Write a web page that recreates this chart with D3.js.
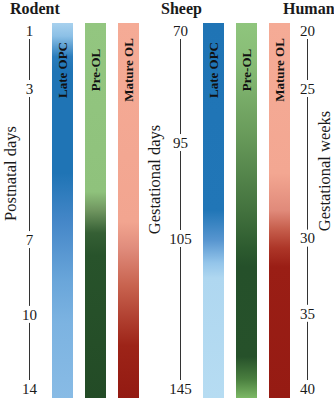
<!DOCTYPE html>
<html>
<head>
<meta charset="utf-8">
<script src="https://cdn.jsdelivr.net/npm/d3@7"></script>
<style>
    body { margin: 0; background: #fff; }
    text { font-family: "Liberation Serif", "Times New Roman", serif; fill: #1a1a1a; }
    .title { font-weight: bold; font-size: 16px; }
    .tick-label { font-size: 15px; }
    .axis-title { font-size: 16.5px; }
    .bar-label { font-weight: bold; font-size: 13px; fill: #111; }
    .axis-line { stroke: #333; stroke-width: 1; }
</style>
</head>
<body>
<script>

// tick values of each timeline and where they sit on the shared developmental stage (0 = top, 1 = bottom)
var rodentDays = [1, 3, 7, 10, 14];
var rodentStage = [0, 0.162, 0.584, 0.793, 1];
var sheepDays = [70, 95, 105, 145];
var sheepStage = [0, 0.313, 0.581, 1];
var humanWeeks = [20, 25, 30, 35, 40];
var humanStage = [0, 0.162, 0.58, 0.79, 1];

var cellTypes = ["Late OPC", "Pre-OL", "Mature OL"];

// colour along each bar: [offset, colour]
var rodentGradients = [
    [[0, "#a8d1ee"], [0.035, "#8cc0e6"], [0.09, "#2a7cbc"], [0.13, "#1f74b5"], [0.4, "#1f74b5"],
     [0.53, "#4587c8"], [0.69, "#6aa6da"], [0.8, "#7cb3e1"], [1, "#88bbe5"]],
    [[0, "#93c680"], [0.45, "#8fc27c"], [0.5, "#6f955f"], [0.56, "#355f34"], [0.62, "#28532b"], [1, "#234b26"]],
    [[0, "#f5ab96"], [0.53, "#f2a590"], [0.6, "#e08c7c"], [0.7, "#c8634f"], [0.8, "#ad3b2c"],
     [0.86, "#9d2418"], [1, "#931a12"]]
];

var sheepGradients = [
    [[0, "#1f74b5"], [0.5, "#2176b7"], [0.58, "#5896d0"], [0.64, "#94c5ea"], [0.68, "#afd7f0"], [1, "#b6dcf2"]],
    [[0, "#8fc57d"], [0.1, "#88bd76"], [0.3, "#689a5a"], [0.5, "#43723e"], [0.6, "#2d5b2f"], [0.65, "#25502a"],
     [0.89, "#26512a"], [0.95, "#4a7f3f"], [1, "#7cb865"]],
    [[0, "#f5ab96"], [0.4, "#f3a792"], [0.5, "#e08a7a"], [0.55, "#c65e4c"], [0.6, "#ad3628"],
     [0.65, "#9a1e15"], [1, "#961b13"]]
];


var width = 334
    , height = 400
    , barTop = 23
    , barBottom = 398
    , gap = 8.5;

var svg = d3.select("body")
    .append("svg")
    .attr("width", width)
    .attr("height", height);

var defs = svg.append("defs");

var y = d3.scaleLinear()
    .domain([0, 1])
    .range([30.5, 388.5]);

function timeline(ticks, stage) {
    return d3.scaleLinear()
        .domain(ticks)
        .range(stage.map(y));
}

function drawAxis(ticks, scale, x) {
    var g = svg.append("g").attr("class", "axis");

    g.selectAll("line")
        .data(d3.pairs(ticks))
        .enter()
        .append("line")
        .attr("class", "axis-line")
        .attr("x1", x)
        .attr("x2", x)
        .attr("y1", function(d) { return scale(d[0]) + gap; })
        .attr("y2", function(d) { return scale(d[1]) - gap; });

    g.selectAll("text")
        .data(ticks)
        .enter()
        .append("text")
        .attr("class", "tick-label")
        .attr("x", x)
        .attr("y", function(d) { return scale(d); })
        .attr("dy", "0.35em")
        .attr("text-anchor", "middle")
        .text(function(d) { return d; });
}

function drawBars(name, range, gradients) {
    var x = d3.scaleBand()
        .domain(cellTypes)
        .range(range)
        .paddingInner(0.3636)
        .paddingOuter(0);

    cellTypes.forEach(function(c, i) {
        var grad = defs.append("linearGradient")
            .attr("id", name + "-grad-" + i)
            .attr("x1", 0).attr("y1", 0)
            .attr("x2", 0).attr("y2", 1);
        grad.selectAll("stop")
            .data(gradients[i])
            .enter()
            .append("stop")
            .attr("offset", function(d) { return d[0]; })
            .attr("stop-color", function(d) { return d[1]; });
    });

    var g = svg.append("g").attr("class", "bars " + name);

    g.selectAll("rect")
        .data(cellTypes)
        .enter()
        .append("rect")
        .attr("x", function(d) { return x(d); })
        .attr("y", barTop)
        .attr("width", x.bandwidth())
        .attr("height", barBottom - barTop)
        .attr("fill", function(d, i) { return "url(#" + name + "-grad-" + i + ")"; });

    g.selectAll("text")
        .data(cellTypes)
        .enter()
        .append("text")
        .attr("class", "bar-label")
        .attr("transform", function(d) {
            return "translate(" + (x(d) + x.bandwidth() / 2) + ",70) rotate(-90)";
        })
        .attr("text-anchor", "middle")
        .attr("dominant-baseline", "central")
        .text(function(d) { return d; });
}

function axisTitle(label, x, yc) {
    svg.append("text")
        .attr("class", "axis-title")
        .attr("transform", "translate(" + x + "," + yc + ") rotate(-90)")
        .attr("text-anchor", "middle")
        .text(label);
}

// titles
svg.append("text").attr("class", "title").attr("x", 10).attr("y", 14).text("Rodent");
svg.append("text").attr("class", "title").attr("x", 161).attr("y", 14).text("Sheep");
svg.append("text").attr("class", "title").attr("x", 283).attr("y", 14).text("Human");

// rodent
drawAxis(rodentDays, timeline(rodentDays, rodentStage), 29.5);
axisTitle("Postnatal days", 15.5, 173.5);
drawBars("rodent", [52, 139], rodentGradients);

// sheep
drawAxis(sheepDays, timeline(sheepDays, sheepStage), 180.5);
axisTitle("Gestational days", 160, 179.5);
drawBars("sheep", [203, 290], sheepGradients);

// human
drawAxis(humanWeeks, timeline(humanWeeks, humanStage), 307.5);
axisTitle("Gestational weeks", 330, 171);

</script>
</body>
</html>
